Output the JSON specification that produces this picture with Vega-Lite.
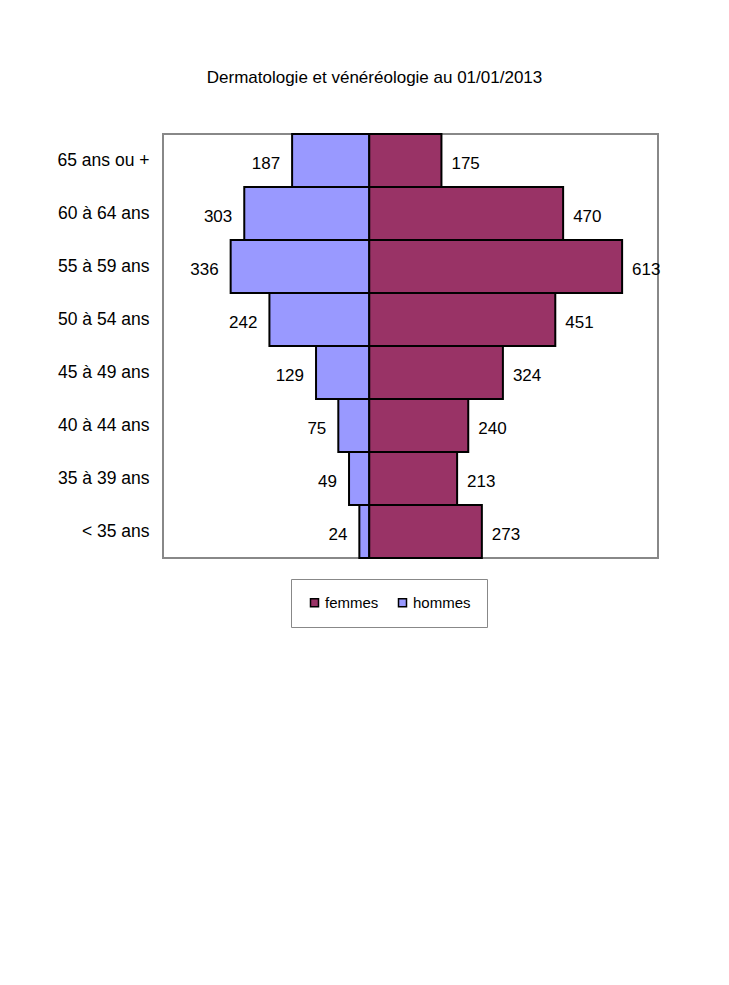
{
  "$schema": "https://vega.github.io/schema/vega-lite/v6.json",
  "autosize": {"type": "none"},
  "width": 495,
  "height": 424,
  "padding": {"left": 163, "top": 134, "right": 71, "bottom": 427},
  "background": "white",
  "title": {
    "text": "Dermatologie et vénéréologie au 01/01/2013",
    "anchor": "middle",
    "dx": -36,
    "offset": 46,
    "font": "Liberation Sans, Arial, sans-serif",
    "fontSize": 17,
    "fontWeight": "normal",
    "color": "black"
  },
  "config": {
    "view": {"stroke": "#888888", "strokeWidth": 2},
    "font": "Liberation Sans, Arial, sans-serif",
    "legend": {"symbolStrokeColor": "black", "symbolStrokeWidth": 1.5}
  },
  "data": {
    "values": [
      {"age": "65 ans ou +", "sexe": "hommes", "effectif": 187},
      {"age": "65 ans ou +", "sexe": "femmes", "effectif": 175},
      {"age": "60 à 64 ans", "sexe": "hommes", "effectif": 303},
      {"age": "60 à 64 ans", "sexe": "femmes", "effectif": 470},
      {"age": "55 à 59 ans", "sexe": "hommes", "effectif": 336},
      {"age": "55 à 59 ans", "sexe": "femmes", "effectif": 613},
      {"age": "50 à 54 ans", "sexe": "hommes", "effectif": 242},
      {"age": "50 à 54 ans", "sexe": "femmes", "effectif": 451},
      {"age": "45 à 49 ans", "sexe": "hommes", "effectif": 129},
      {"age": "45 à 49 ans", "sexe": "femmes", "effectif": 324},
      {"age": "40 à 44 ans", "sexe": "hommes", "effectif": 75},
      {"age": "40 à 44 ans", "sexe": "femmes", "effectif": 240},
      {"age": "35 à 39 ans", "sexe": "hommes", "effectif": 49},
      {"age": "35 à 39 ans", "sexe": "femmes", "effectif": 213},
      {"age": "< 35 ans", "sexe": "hommes", "effectif": 24},
      {"age": "< 35 ans", "sexe": "femmes", "effectif": 273}
    ]
  },
  "encoding": {
    "y": {
      "field": "age",
      "type": "nominal",
      "sort": ["65 ans ou +", "60 à 64 ans", "55 à 59 ans", "50 à 54 ans", "45 à 49 ans", "40 à 44 ans", "35 à 39 ans", "< 35 ans"],
      "scale": {"paddingInner": 0, "paddingOuter": 0},
      "axis": {
        "title": null,
        "domain": false,
        "ticks": false,
        "grid": false,
        "labelFontSize": 17.5,
        "labelColor": "black",
        "labelPadding": 14
      }
    }
  },
  "layer": [
    {
      "transform": [{"filter": "datum.sexe === 'hommes'"}],
      "mark": {"type": "bar", "stroke": "black", "strokeWidth": 2},
      "encoding": {
        "x": {"field": "effectif", "type": "quantitative", "scale": {"domain": [0, 500], "range": [206.25, 0], "nice": false, "zero": false}, "axis": null},
        "color": {
          "field": "sexe",
          "type": "nominal",
          "scale": {"domain": ["femmes", "hommes"], "range": ["#993366", "#9999FF"]},
          "legend": {
            "title": null,
            "orient": "none",
            "legendX": 128,
            "legendY": 445,
            "direction": "horizontal",
            "strokeColor": "#888888",
            "fillColor": "white",
            "padding": 16,
            "symbolType": "square",
            "symbolSize": 64,
            "symbolOpacity": 1,
            "labelFontSize": 15,
            "labelColor": "black",
            "labelOffset": 3,
            "columnPadding": 16
          }
        }
      }
    },
    {
      "transform": [{"filter": "datum.sexe === 'hommes'"}],
      "mark": {"type": "text", "align": "right", "baseline": "middle", "dx": -12, "dy": 3, "fontSize": 17, "color": "black"},
      "encoding": {
        "x": {"field": "effectif", "type": "quantitative", "scale": {"domain": [0, 500], "range": [206.25, 0], "nice": false, "zero": false}, "axis": null},
        "text": {"field": "effectif", "type": "quantitative"}
      }
    },
    {
      "transform": [{"filter": "datum.sexe === 'femmes'"}],
      "mark": {"type": "bar", "stroke": "black", "strokeWidth": 2},
      "encoding": {
        "x": {"field": "effectif", "type": "quantitative", "scale": {"domain": [0, 700], "range": [206.25, 495], "nice": false, "zero": false}, "axis": null},
        "color": {"field": "sexe", "type": "nominal"}
      }
    },
    {
      "transform": [{"filter": "datum.sexe === 'femmes'"}],
      "mark": {"type": "text", "align": "left", "baseline": "middle", "dx": 10, "dy": 3, "fontSize": 17, "color": "black"},
      "encoding": {
        "x": {"field": "effectif", "type": "quantitative", "scale": {"domain": [0, 700], "range": [206.25, 495], "nice": false, "zero": false}, "axis": null},
        "text": {"field": "effectif", "type": "quantitative"}
      }
    }
  ],
  "resolve": {"scale": {"x": "independent"}}
}
